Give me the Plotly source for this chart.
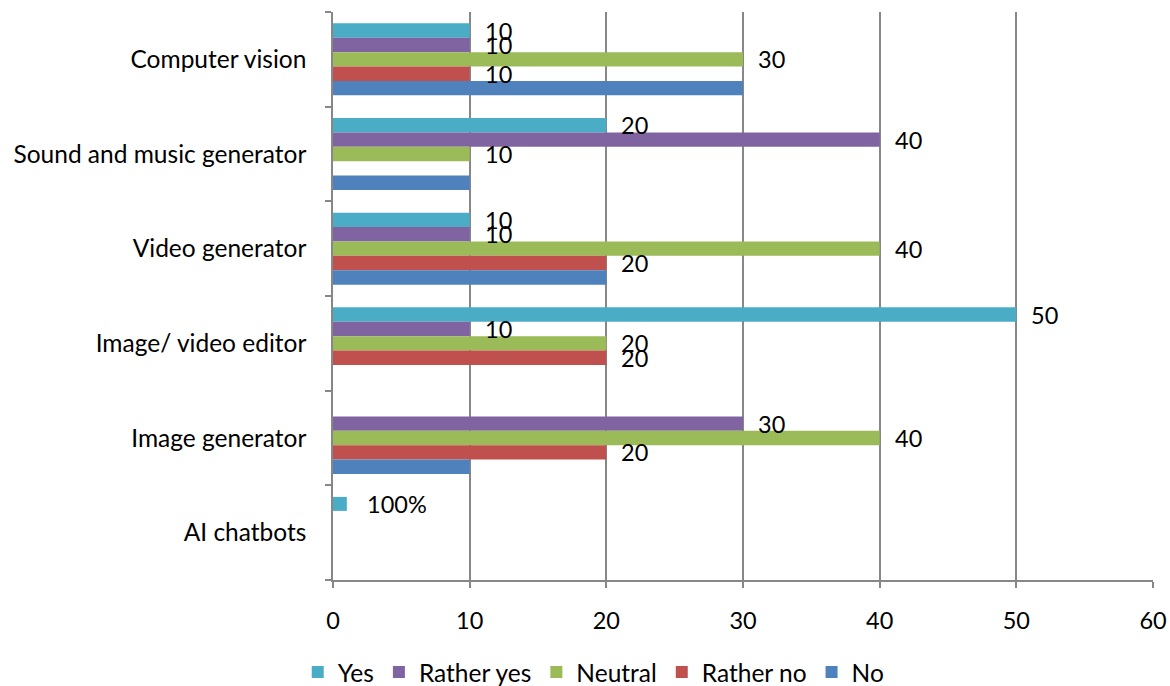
import plotly.graph_objects as go

# Survey categories, bottom to top
categories = ["AI chatbots", "Image generator", "Image/ video editor",
              "Video generator", "Sound and music generator", "Computer vision"]

series_names = ["Yes", "Rather yes", "Neutral", "Rather no", "No"]
yes = [0, 0, 50, 10, 20, 10]
rather_yes = [0, 30, 10, 10, 40, 10]
neutral = [0, 40, 20, 40, 10, 30]
rather_no = [0, 20, 20, 20, 0, 10]
no = [0, 10, 0, 20, 10, 30]
series_values = [yes, rather_yes, neutral, rather_no, no]
labelled_series = ["Yes", "Rather yes", "Neutral", "Rather no"]

chatbot_note = "100%"

x_ticks = [0, 10, 20, 30, 40, 50, 60]

colors = ["#4BACC6", "#8064A2", "#9BBB59", "#C0504D", "#4F81BD"]
FONT = "Lato"
FS = 23.5

slot = 0.152  # thickness of one bar in category units
pos = list(range(len(categories)))

fig = go.Figure()
annotations = []
for i, (name, vals, col) in enumerate(zip(series_names, series_values, colors)):
    ys = [p + (2 - i) * slot for p in pos]
    xs = [v if v else None for v in vals]
    fig.add_trace(go.Bar(
        x=xs, y=ys, orientation="h", width=slot, name=name,
        marker=dict(color=col, line=dict(width=0)),
    ))
    if name in labelled_series:
        for v, yy in zip(vals, ys):
            if v:
                annotations.append(dict(
                    x=v, y=yy, xref="x", yref="y", text=str(v),
                    showarrow=False, xanchor="left", yanchor="middle",
                    xshift=13, font=dict(family=FONT, size=FS, color="#000000"),
                ))

# legend-key style note for AI chatbots
note_y = pos[0] + 2 * slot
fig.add_trace(go.Scatter(
    x=[0.5], y=[note_y], mode="markers",
    marker=dict(symbol="square", size=14, color=colors[0], line=dict(width=0)),
    showlegend=False, hoverinfo="skip", cliponaxis=False,
))
annotations.append(dict(
    x=0.5, y=note_y, xref="x", yref="y", text=chatbot_note,
    showarrow=False, xanchor="left", yanchor="middle", xshift=25,
    font=dict(family=FONT, size=FS, color="#000000"),
))

fig.update_layout(
    width=1170, height=686,
    margin=dict(l=333, r=17, t=12, b=106, autoexpand=False),
    paper_bgcolor="white", plot_bgcolor="white",
    barmode="overlay",
    font=dict(family=FONT, size=FS, color="#000000"),
    showlegend=True,
    legend=dict(orientation="h", x=-0.043, y=-0.162, xanchor="left", yanchor="middle",
                font=dict(family=FONT, size=24.5), traceorder="normal",
                itemwidth=30),
    annotations=annotations,
)

fig.update_xaxes(
    range=[0, 60], tickvals=x_ticks, showgrid=True, gridcolor="#878787", gridwidth=1.5,
    zeroline=False, showline=True, linecolor="#878787", linewidth=1.5,
    ticks="outside", ticklen=6, tickcolor="#878787", tickwidth=1.5,
    ticklabelstandoff=13, fixedrange=True, automargin=False,
)
fig.update_yaxes(
    range=[-0.5, 5.5], tickvals=pos, ticktext=categories, showgrid=False,
    zeroline=False, showline=True, linecolor="#878787", linewidth=1.5,
    ticks="", ticklabelstandoff=20, tickfont=dict(family=FONT, size=24.5),
    minor=dict(tick0=0.5, dtick=1, ticks="outside", ticklen=6, tickcolor="#878787",
               tickwidth=1.5, showgrid=False),
    fixedrange=True, automargin=False,
)

fig.write_html("out.html")
